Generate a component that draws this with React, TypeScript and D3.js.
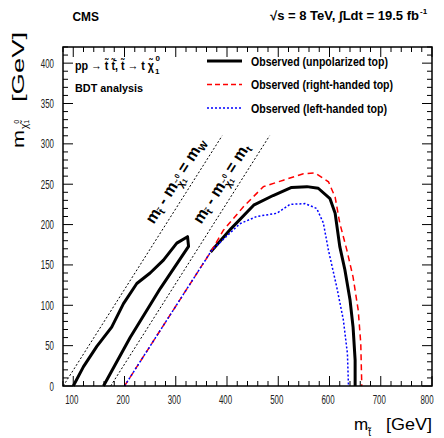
import React from "react";
import * as d3 from "d3";

const W = 444;
const H = 438;
const margin = { top: 47, right: 12, bottom: 52, left: 63 };
const FONT = "'Liberation Sans', Arial, sans-serif";
const ADJ = "spacingAndGlyphs";

// axis ticks
const xTicks = [100, 200, 300, 400, 500, 600, 700, 800];
const yTicks = [0, 50, 100, 150, 200, 250, 300, 350, 400];

// kinematic boundaries (dotted diagonals): m_stop - m_lsp = offset
const mW = 80.4;
const mTop = 173;
const diagTop = 310;

// observed exclusion contours (m_stop, m_lsp) in GeV
const obsLeft = [
  [100, 0], [120, 24], [146, 49], [175, 73], [198, 102], [224, 127], [250, 140],
  [276, 156], [302, 177], [323, 185], [325, 173], [270, 121], [211, 60], [159, 0],
];
const obsRight = [
  [368, 166], [408, 195], [452, 224], [490, 236], [526, 246], [556, 247], [578, 245],
  [601, 232], [611, 214], [620, 173], [630, 144], [640, 107], [646, 73], [650, 32], [650, 0],
];
const obsRight_RH = [
  [200, 0], [370, 168], [393, 193], [432, 222], [471, 247], [510, 255], [549, 263],
  [572, 264], [598, 253], [611, 234], [620, 202], [634, 168], [646, 135], [656, 94],
  [661, 53], [663, 0],
];
const obsLeft_LH = [
  [200, 0], [370, 168], [400, 186], [425, 201], [458, 210], [497, 214], [523, 225],
  [552, 226], [575, 220], [588, 202], [598, 168], [614, 123], [627, 82], [635, 40], [637, 0],
];

const legendLabels = [
  "Observed (unpolarized top)",
  "Observed (right-handed top)",
  "Observed (left-handed top)",
];
const legendWidths = [137, 142, 136];

export default function App() {
  const x = d3.scaleLinear().domain([80, 800]).range([margin.left, W - margin.right]);
  const y = d3.scaleLinear().domain([0, 420]).range([H - margin.bottom, margin.top]);
  const line = d3.line<number[]>().x(d => x(d[0])).y(d => y(d[1]));

  const x0 = margin.left, x1 = W - margin.right, y0 = H - margin.bottom, y1 = margin.top;
  const xMinor = d3.range(80, 801, 20);
  const yMinor = d3.range(0, 421, 10);

  // angle of the diagonal lines in pixel space
  const ang = (Math.atan2(y(0) - y(100), x(100) - x(0)) * 180) / Math.PI;

  const diag = (off: number) => [[off, 0], [off + diagTop, diagTop]];
  const diagLabel = (off: number, sub: string, start: number) => {
    const px = x(off + start), py = y(start);
    return (
      <text transform={`translate(${px},${py}) rotate(${-ang})`} y={-10}
        fontSize={16} fontWeight="bold" fontFamily={FONT}>
        m<tspan fontSize={10} dy={3}>{"t\u0303"}</tspan>
        <tspan fontSize={16} dy={-3}>{" - m"}</tspan>
        <tspan fontSize={10} dy={4}>{"\u03c7\u0303"}</tspan>
        <tspan fontSize={7} dy={1}>1</tspan>
        <tspan fontSize={7} dx={-4} dy={-9}>0</tspan>
        <tspan fontSize={16} dy={4}>{" = m"}</tspan>
        <tspan fontSize={10} dy={3}>{sub}</tspan>
      </text>
    );
  };

  const legendStyles = [
    { stroke: "#000", width: 3, dash: "none" },
    { stroke: "#ff0000", width: 1.5, dash: "5,3" },
    { stroke: "#0000ff", width: 1.5, dash: "2,2" },
  ];

  const tickLen = (v: number) => String(v).length * 4.4;

  return (
    <svg width={W} height={H} style={{ position: "absolute", left: 0, top: 0, background: "#fff" }}>
      <rect width={W} height={H} fill="#fff" />

      {/* diagonals */}
      <path d={line(diag(mW)) ?? ""} fill="none" stroke="#000" strokeWidth={1} strokeDasharray="2,2" />
      <path d={line(diag(mTop)) ?? ""} fill="none" stroke="#000" strokeWidth={1} strokeDasharray="2,2" />
      {diagLabel(mW, "W", 193)}
      {diagLabel(mTop, "t", 193)}

      {/* contours */}
      <path d={line(obsLeft) ?? ""} fill="none" stroke="#000" strokeWidth={3} strokeLinejoin="round" />
      <path d={line(obsRight) ?? ""} fill="none" stroke="#000" strokeWidth={3} strokeLinejoin="round" />
      <path d={line(obsRight_RH) ?? ""} fill="none" stroke="#ff0000" strokeWidth={1.5} strokeDasharray="6,4" />
      <path d={line(obsLeft_LH) ?? ""} fill="none" stroke="#0000ff" strokeWidth={1.5} strokeDasharray="2,2" />

      {/* frame and ticks */}
      <rect x={x0} y={y1} width={x1 - x0} height={y0 - y1} fill="none" stroke="#000" strokeWidth={1.5} />
      {xMinor.map(v => {
        const len = v % 100 === 0 ? 10 : 5;
        return (
          <g key={"xt" + v}>
            <line x1={x(v)} x2={x(v)} y1={y0} y2={y0 - len} stroke="#000" />
            <line x1={x(v)} x2={x(v)} y1={y1} y2={y1 + len} stroke="#000" />
          </g>
        );
      })}
      {yMinor.map(v => {
        const len = v % 50 === 0 ? 10 : 5;
        return (
          <g key={"yt" + v}>
            <line x1={x0} x2={x0 + len} y1={y(v)} y2={y(v)} stroke="#000" />
            <line x1={x1} x2={x1 - len} y1={y(v)} y2={y(v)} stroke="#000" />
          </g>
        );
      })}

      {/* tick labels */}
      {xTicks.map(v => (
        <text key={"xl" + v} x={Math.min(x(v) - 1.5, W - 17)} y={y0 + 18} textAnchor="middle" fontSize={12.5}
          fontFamily={FONT} fill="#222" textLength={tickLen(v)} lengthAdjust={ADJ}>{v}</text>
      ))}
      {yTicks.map(v => (
        <text key={"yl" + v} x={x0 - 9} y={y(v) + 4.5} textAnchor="end" fontSize={12.5}
          fontFamily={FONT} fill="#222" textLength={tickLen(v)} lengthAdjust={ADJ}>{v}</text>
      ))}

      {/* x axis title */}
      <text x={354} y={430} fontSize={17} fontFamily={FONT}>
        m<tspan fontSize={10} dy={6}>{"t\u0303"}</tspan>
      </text>
      <text x={x1} y={430} textAnchor="end" fontSize={17} fontFamily={FONT}
        textLength={46} lengthAdjust={ADJ}>[GeV]</text>

      {/* y axis title */}
      <text transform="translate(24,148) rotate(-90)" fontSize={16} fontFamily={FONT}
        textLength={18} lengthAdjust={ADJ}>m</text>
      <text transform="translate(28,129) rotate(-90)" fontSize={10} fontFamily={FONT}>
        {"\u03c7\u0303"}
        <tspan fontSize={7} dy={1}>1</tspan>
        <tspan fontSize={7} dx={-4} dy={-10}>0</tspan>
      </text>
      <text transform="translate(24,32) rotate(-90)" textAnchor="end" fontSize={16} fontFamily={FONT}
        textLength={70} lengthAdjust={ADJ}>[GeV]</text>

      {/* header */}
      <text x={72.5} y={21} fontSize={12.5} fontWeight="bold" fontFamily={FONT}
        textLength={26.5} lengthAdjust={ADJ}>CMS</text>
      <text x={270} y={19.5} fontSize={12.5} fontWeight="bold" fontFamily={FONT}
        textLength={149} lengthAdjust={ADJ}>{"\u221as = 8 TeV, \u222bLdt = 19.5 fb"}</text>
      <text x={420} y={14} fontSize={8} fontWeight="bold" fontFamily={FONT}>-1</text>

      {/* process label */}
      <text x={75} y={70} fontSize={12.5} fontWeight="bold" fontFamily={FONT}>
        <tspan textLength={79} lengthAdjust={ADJ}>
          {"pp \u2192 t\u0303 t\u0303\u0304, t\u0303 \u2192 t \u03c7\u0303"}
        </tspan>
        <tspan fontSize={8} dx={1} dy={4}>1</tspan>
        <tspan fontSize={8} dx={-4} dy={-13}>0</tspan>
      </text>
      <text x={75} y={91.5} fontSize={11} fontWeight="bold" fontFamily={FONT}
        textLength={68} lengthAdjust={ADJ}>BDT analysis</text>

      {/* legend */}
      {legendLabels.map((lab, i) => {
        const ly = 61 + i * 23.5;
        const s = legendStyles[i];
        return (
          <g key={lab}>
            <line x1={207} x2={242} y1={ly} y2={ly} stroke={s.stroke} strokeWidth={s.width}
              strokeDasharray={s.dash} />
            <text x={251} y={ly + 4.5} fontSize={12.5} fontWeight="bold" fontFamily={FONT}
              textLength={legendWidths[i]} lengthAdjust={ADJ}>{lab}</text>
          </g>
        );
      })}
    </svg>
  );
}
